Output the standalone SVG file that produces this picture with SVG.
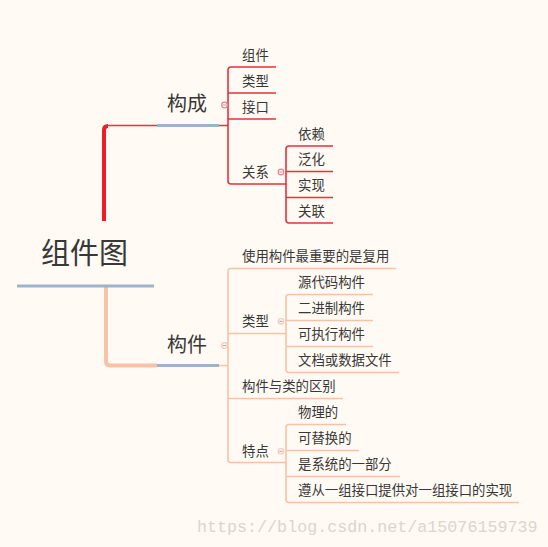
<svg xmlns="http://www.w3.org/2000/svg" width="548" height="547" viewBox="0 0 548 547">
<style>
text{font-family:"Noto Sans CJK SC","Noto Sans",sans-serif;fill:#383838}
.s{font-size:13.4px}
.m{font-size:20px}
.r{font-size:29px}
.blue{stroke:#9db2cb;stroke-width:3;fill:none}
.red{stroke:#e8323a;stroke-width:1.6;fill:none}
.redb{stroke:#ee1c24;stroke-width:4;fill:none}
.pch{stroke:#f8c2a6;stroke-width:1.6;fill:none}
.pchb{stroke:#f8c2a6;stroke-width:4;fill:none}
.cr{fill:#fff3f3;stroke:#f0808a;stroke-width:1.2}
.cp{fill:#fffaf5;stroke:#f8c8b2;stroke-width:1.2}
.mn{stroke:#9aa8bc;stroke-width:1}
.wm{font-family:"Liberation Mono",monospace;font-size:16.7px;fill:#dad6ce}
</style>
<rect width="548" height="547" fill="#fffaf3"/>
<g id="connectors">
<path class="redb" d="M104,221 V130 Q104,126 108,126"/>
<path class="red" d="M107,125.5 H157" stroke="#f46a6a"/>
<path class="red" d="M219,125.5 H228 M276,67 H231 Q228,67 228,70 V181 Q228,184 231,184 H286 M228,93 H276 M228,119 H276"/>
<path class="red" d="M333,146 H289 Q286,146 286,149 V220 Q286,223 289,223 H333 M286,171.5 H333 M286,197.5 H333"/>
<path class="pchb" d="M106,287 V361 Q106,365.5 110,365.5 H157"/>
<path class="pch" d="M219,365.5 H228 M396,268.5 H231 Q228,268.5 228,271.5 V459.5 Q228,462.5 231,462.5 H286 M228,333.5 H286 M228,398.5 H343"/>
<path class="pch" d="M373,294.5 H289 Q286,294.5 286,297.5 V369.5 Q286,372.5 289,372.5 H399 M286,320.5 H373 M286,346.5 H373"/>
<path class="pch" d="M346,424.5 H289 Q286,424.5 286,427.5 V499.5 Q286,502.5 289,502.5 H519 M286,450.5 H359 M286,476.5 H400"/>
</g>
<g id="root"><text class="r" x="41" y="264">组件图</text><path class="blue" d="M17,286 H154"/></g>
<g id="goucheng"><text class="m" x="167" y="111">构成</text><path class="blue" d="M157,125.5 H219"/><circle class="cr" cx="224.5" cy="105" r="2.8"/><path class="mn" d="M222.8,105 H226.2"/></g>
<g id="n-zujian"><text class="s" x="242" y="59.5">组件</text></g>
<g id="n-leixing1"><text class="s" x="242" y="85.5">类型</text></g>
<g id="n-jiekou"><text class="s" x="242" y="111.5">接口</text></g>
<g id="n-guanxi"><text class="s" x="242" y="176.5">关系</text><circle class="cr" cx="281" cy="172" r="2.8"/><path class="mn" d="M279.3,172 H282.7"/></g>
<g id="n-yilai"><text class="s" x="298" y="138.5">依赖</text></g>
<g id="n-fanhua"><text class="s" x="298" y="164">泛化</text></g>
<g id="n-shixian"><text class="s" x="298" y="190">实现</text></g>
<g id="n-guanlian"><text class="s" x="298" y="215.5">关联</text></g>
<g id="goujian"><text class="m" x="167" y="352">构件</text><path class="blue" d="M157,365.5 H219"/><circle class="cp" cx="224.5" cy="345.5" r="2.8"/><path class="mn" d="M222.8,345.5 H226.2"/></g>
<g id="n-shiyong"><text class="s" x="242" y="261">使用构件最重要的是复用</text></g>
<g id="n-leixing2"><text class="s" x="242" y="326">类型</text><circle class="cp" cx="281" cy="321.3" r="2.8"/><path class="mn" d="M279.3,321.3 H282.7"/></g>
<g id="n-yuandaima"><text class="s" x="298" y="287">源代码构件</text></g>
<g id="n-erjinzhi"><text class="s" x="298" y="313">二进制构件</text></g>
<g id="n-kezhixing"><text class="s" x="298" y="339">可执行构件</text></g>
<g id="n-wendang"><text class="s" x="298" y="365">文档或数据文件</text></g>
<g id="n-qubie"><text class="s" x="242" y="391">构件与类的区别</text></g>
<g id="n-tedian"><text class="s" x="242" y="455.5">特点</text><circle class="cp" cx="281" cy="451.3" r="2.8"/><path class="mn" d="M279.3,451.3 H282.7"/></g>
<g id="n-wuli"><text class="s" x="298" y="417">物理的</text></g>
<g id="n-ketihuan"><text class="s" x="298" y="443">可替换的</text></g>
<g id="n-xitong"><text class="s" x="298" y="469">是系统的一部分</text></g>
<g id="n-zunchong"><text class="s" x="298" y="495">遵从一组接口提供对一组接口的实现</text></g>
<text class="wm" x="197" y="532">https://blog.csdn.net/a15076159739</text>
</svg>
